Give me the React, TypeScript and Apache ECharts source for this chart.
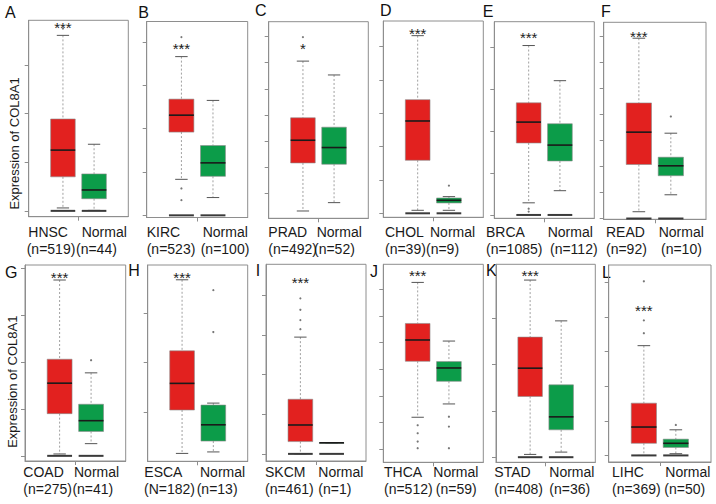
import React, { useEffect, useRef } from "react";
import * as echarts from "echarts";

// ---------------- data ----------------
const panelLetters = ["A", "B", "C", "D", "E", "F", "G", "H", "I", "J", "K", "L"];
const tumorTypes = ["HNSC", "KIRC", "PRAD", "CHOL", "BRCA", "READ", "COAD", "ESCA", "SKCM", "THCA", "STAD", "LIHC"];
const normalName = "Normal";
const tumorCounts = ["(n=519)", "(n=523)", "(n=492)", "(n=39)", "(n=1085)", "(n=92)", "(n=275)", "(N=182)", "(n=461)", "(n=512)", "(n=408)", "(n=369)"];
const normalCounts = ["(n=44)", "(n=100)", "(n=52)", "(n=9)", "(n=112)", "(n=10)", "(n=41)", "(n=13)", "(n=1)", "(n=59)", "(n=36)", "(n=50)"];
const significance = ["***", "***", "*", "***", "***", "***", "***", "***", "***", "***", "***", "***"];
const significanceLevel = [3.83, 3.93, 5.68, 5.5, 4.31, 7.1, 3.88, 3.8, 4.42, 6.66, 3.99, 4.28];
const yAxisTitle = "Expression of COL8A1";

// [lower whisker, Q1, median, Q3, upper whisker]
const tumorBox = [
  [0.06, 0.7, 1.25, 1.89, 3.61],
  [0.83, 1.92, 2.31, 2.68, 3.66],
  [-0.68, 1.16, 2.03, 2.89, 5.06],
  [0.09, 1.59, 2.77, 3.41, 5.33],
  [0.29, 1.72, 2.22, 2.68, 4.05],
  [0.26, 2.07, 3.31, 4.43, 6.91],
  [0.04, 0.9, 1.55, 2.06, 3.75],
  [0.16, 1.04, 1.58, 2.24, 3.68],
  [0.0, 0.31, 0.73, 1.38, 2.95],
  [1.2, 3.3, 4.1, 4.72, 6.26],
  [0.06, 1.31, 1.92, 2.59, 3.82],
  [0.0, 0.35, 0.82, 1.51, 3.17],
];
const normalBox = [
  [0.01, 0.25, 0.43, 0.76, 1.37],
  [0.41, 0.9, 1.21, 1.61, 2.65],
  [-0.36, 1.11, 1.75, 2.53, 4.53],
  [0.09, 0.31, 0.39, 0.46, 0.5],
  [0.58, 1.29, 1.67, 2.18, 3.21],
  [0.91, 1.64, 2.02, 2.35, 3.27],
  [0.26, 0.52, 0.75, 1.1, 1.77],
  [0.19, 0.41, 0.74, 1.14, 1.18],
  [0.28, 0.28, 0.28, 0.28, 0.28],
  [1.7, 2.55, 3.05, 3.29, 4.06],
  [0.11, 0.59, 0.87, 1.56, 2.94],
  [0.05, 0.23, 0.35, 0.47, 0.74],
];
// samples piled at zero (drawn as a bar at 0)
const zeroCluster = [1, 1, 0, 1, 1, 1, 1, 0, 1, 0, 1, 1];
const tumorOutliers = [
  [3.75],
  [4.11, 3.9, 0.62, 0.35],
  [5.98],
  [],
  [0.15, 0.08],
  [],
  [],
  [],
  [3.93, 3.64, 3.38, 3.15],
  [0.9, 0.6, 0.29, 0.04],
  [],
  [5.03, 3.9, 3.53],
];
const normalOutliers = [
  [],
  [],
  [],
  [0.83],
  [],
  [3.91],
  [2.04],
  [3.47, 2.62],
  [],
  [1.22, 0.85, 0.04],
  [],
  [0.88],
];
const yAxisMin = [-0.12, -0.05, -0.96, -0.12, -0.08, -0.03, -0.11, 0, -0.18, -0.49, -0.11, -0.19];
const yAxisMax = [3.92, 4.47, 6.57, 5.77, 4.62, 7.52, 4.07, 3.98, 4.79, 6.94, 4.16, 5.5];
const yTickValues = [
  [0, 1, 2, 3],
  [0, 1, 2, 3, 4],
  [0, 1, 2, 3, 4, 5, 6],
  [0, 1, 2, 3, 4, 5],
  [0, 1, 2, 3, 4],
  [0, 1, 2, 3, 4, 5, 6, 7],
  [0, 1, 2, 3, 4],
  [1, 2, 3],
  [0, 1, 2, 3, 4],
  [0, 1, 2, 3, 4, 5, 6],
  [0, 1, 2, 3],
  [0, 1, 2, 3, 4, 5],
];
const groupPositions = [1, 2];

// ---------------- layout / style ----------------
const panelFrames = [
  [28.7, 20.3, 128.3, 216.7],
  [146.7, 21.5, 247.7, 217.5],
  [268.7, 21.7, 368.3, 218.3],
  [383.3, 21, 483.3, 217.3],
  [494.3, 21.7, 594.3, 218.3],
  [603.7, 22.3, 706, 219.3],
  [25, 265, 125.7, 461],
  [147.7, 265, 247.7, 461.3],
  [266, 264.3, 366, 461],
  [383.3, 264.3, 483.3, 462.3],
  [496, 264.3, 595.3, 462.3],
  [608.7, 265, 711, 462],
];
const letterPos = [
  [5, 12.8], [138.3, 12.8], [255, 10.8], [380, 10.8], [482.7, 11.3], [601, 11.7],
  [5, 272.5], [128.3, 270], [255.7, 270.8], [370, 271], [486, 270.8], [602, 272],
];
// x of: tumor name, "Normal", tumor n, normal n
const labelX = [
  [28.3, 81.7, 26.7, 76],
  [146.7, 202.7, 146.7, 200.7],
  [268.3, 316.7, 268.3, 314],
  [385, 430, 385, 426],
  [486, 547.7, 486, 550],
  [606, 658.7, 606, 661],
  [23.3, 74, 23.3, 72.4],
  [144.3, 200, 144, 196.7],
  [265, 318.3, 265, 318.3],
  [384, 433.3, 384, 435.8],
  [494.3, 549.3, 494.3, 549.3],
  [612, 665.3, 612, 664.3],
];
const rowLabelY = [[232, 248.5], [472, 489]];
const yTitlePos = [[14, 143.5], [12.5, 381.7]];

const RED = "#E2211F";
const GREEN = "#0C9C49";
const FRAME = "#8e8e8e";
const FONT = "'Liberation Sans', Arial, sans-serif";
const BOX_WIDTH = 0.79;

function boxRender(params: any, api: any) {
  const x = api.value(0);
  const lw = api.value(1);
  const q1 = api.value(2);
  const med = api.value(3);
  const q3 = api.value(4);
  const uw = api.value(5);
  const zero = api.value(6);
  const half = api.size([BOX_WIDTH, 0])[0] / 2;
  const cx = api.coord([x, med])[0];
  const py = (v: number) => api.coord([x, v])[1];
  const yLw = py(lw), yQ1 = py(q1), yMed = py(med), yQ3 = py(q3), yUw = py(uw);
  const color = params.dataIndex === 0 ? RED : GREEN;
  const capHalf = half / 2;
  const whisker = { stroke: "#a0a0a0", lineWidth: 1, lineDash: [2, 2] };
  const cap = { stroke: "#555", lineWidth: 1 };
  const children: any[] = [
    { type: "line", shape: { x1: cx, y1: yUw, x2: cx, y2: yQ3 }, style: whisker },
    { type: "line", shape: { x1: cx, y1: yQ1, x2: cx, y2: yLw }, style: whisker },
    { type: "line", shape: { x1: cx - capHalf, y1: yUw, x2: cx + capHalf, y2: yUw }, style: cap },
    { type: "line", shape: { x1: cx - capHalf, y1: yLw, x2: cx + capHalf, y2: yLw }, style: cap },
    {
      type: "rect",
      shape: { x: cx - half, y: yQ3, width: half * 2, height: Math.max(yQ1 - yQ3, 0.5) },
      style: { fill: color, stroke: "#8a8a8a", lineWidth: 0.6 },
    },
    { type: "line", shape: { x1: cx - half, y1: yMed, x2: cx + half, y2: yMed }, style: { stroke: "#1a1a1a", lineWidth: 1.6 } },
  ];
  if (zero) {
    const y0 = py(0);
    children.push({ type: "line", shape: { x1: cx - half, y1: y0, x2: cx + half, y2: y0 }, style: { stroke: "#3a3a3a", lineWidth: 2 } });
  }
  return { type: "group", children };
}

function starRender(params: any, api: any) {
  const p = api.coord([api.value(0), api.value(1)]);
  return {
    type: "text",
    x: p[0],
    y: p[1] + 3.3,
    style: {
      text: significance[(params.seriesIndex / 3) | 0] ?? "",
      align: "center",
      verticalAlign: "middle",
      fontSize: 15,
      fontFamily: FONT,
      fill: "#222",
    },
  };
}

function buildOption() {
  const grid: any[] = [];
  const xAxis: any[] = [];
  const yAxis: any[] = [];
  const series: any[] = [];
  const graphic: any[] = [];

  panelFrames.forEach(([l, t, r, b], i) => {
    grid.push({
      left: l, top: t, width: r - l, height: b - t,
      show: true, borderColor: FRAME, borderWidth: 1, backgroundColor: "#fff",
      containLabel: false, outerBoundsMode: "none",
    });
    xAxis.push({
      gridIndex: i, type: "value", min: -0.1, max: 3.1,
      axisLine: { show: true, onZero: false, lineStyle: { color: FRAME } },
      axisTick: { show: true, customValues: [1.5], length: 4, lineStyle: { color: FRAME } },
      axisLabel: { show: false }, splitLine: { show: false },
    });
    yAxis.push({
      gridIndex: i, type: "value", min: yAxisMin[i], max: yAxisMax[i],
      axisLine: { show: true, onZero: false, lineStyle: { color: FRAME } },
      axisTick: { show: true, customValues: yTickValues[i], length: 4, lineStyle: { color: FRAME } },
      axisLabel: { show: false }, splitLine: { show: false },
    });
    series.push({
      type: "custom", xAxisIndex: i, yAxisIndex: i, renderItem: boxRender, clip: false,
      data: [
        [groupPositions[0], ...tumorBox[i], zeroCluster[i]],
        [groupPositions[1], ...normalBox[i], zeroCluster[i]],
      ],
      z: 2,
    });
    series.push({
      type: "scatter", xAxisIndex: i, yAxisIndex: i, symbolSize: 2.2,
      itemStyle: { color: "#555" },
      data: [
        ...tumorOutliers[i].map((v) => [groupPositions[0], v]),
        ...normalOutliers[i].map((v) => [groupPositions[1], v]),
      ],
      z: 3,
    });
    series.push({
      type: "custom", xAxisIndex: i, yAxisIndex: i, renderItem: starRender, clip: false,
      data: [[groupPositions[0], significanceLevel[i]]], z: 4,
    });

    const row = i < 6 ? 0 : 1;
    const [y1, y2] = rowLabelY[row];
    const lx = labelX[i];
    const txt = (x: number, y: number, s: string) => ({
      type: "text", x, y,
      style: { text: s, fontSize: 14, fontFamily: FONT, fill: "#1a1a1a", align: "left", verticalAlign: "middle" },
    });
    graphic.push(txt(lx[0], y1, tumorTypes[i]));
    graphic.push(txt(lx[1], y1, normalName));
    graphic.push(txt(lx[2], y2, tumorCounts[i]));
    graphic.push(txt(lx[3], y2, normalCounts[i]));
    graphic.push({
      type: "text", x: letterPos[i][0], y: letterPos[i][1],
      style: { text: panelLetters[i], fontSize: 16, fontFamily: FONT, fill: "#111", align: "left", verticalAlign: "middle" },
    });
  });

  yTitlePos.forEach(([x, y]) => {
    graphic.push({
      type: "text", x, y, rotation: Math.PI / 2,
      style: { text: yAxisTitle, fontSize: 13, fontFamily: FONT, fill: "#1a1a1a", align: "center", verticalAlign: "middle" },
    });
  });

  return { animation: false, backgroundColor: "#fff", grid, xAxis, yAxis, series, graphic };
}

export default function App() {
  const ref = useRef<HTMLDivElement>(null);
  useEffect(() => {
    if (!ref.current) return;
    const chart = echarts.init(ref.current, undefined, { renderer: "svg" });
    chart.setOption(buildOption() as any);
    return () => chart.dispose();
  }, []);
  return <div ref={ref} style={{ width: 716, height: 504, position: "absolute", left: 0, top: 0 }} />;
}
